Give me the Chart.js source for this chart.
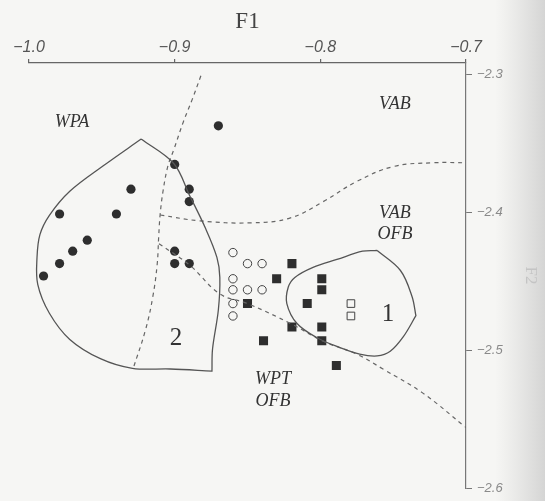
<!DOCTYPE html>
<html>
<head>
<meta charset="utf-8">
<script src="https://cdn.jsdelivr.net/npm/chart.js@4/dist/chart.umd.min.js"></script>
<style>
    html, body { margin: 0; padding: 0; background: #f6f6f4; }
    #wrap { width: 545px; height: 501px; }
</style>
</head>
<body>
<div id="wrap"><canvas id="chart" width="545" height="501"></canvas></div>
<script>
// axis ticks
const xTicks = [-1.0, -0.9, -0.8, -0.7];
const yTicks = [-2.6, -2.5, -2.4, -2.3];

// filled circles
const dotX = [-0.870, -0.900, -0.890, -0.890, -0.930, -0.979, -0.940, -0.960, -0.970, -0.979, -0.990, -0.900, -0.900, -0.890];
const dotY = [-2.337, -2.365, -2.383, -2.392, -2.383, -2.401, -2.401, -2.420, -2.428, -2.437, -2.446, -2.428, -2.437, -2.437];

// open circles
const ringX = [-0.860, -0.850, -0.840, -0.860, -0.860, -0.850, -0.840, -0.860, -0.860];
const ringY = [-2.429, -2.437, -2.437, -2.448, -2.456, -2.456, -2.456, -2.466, -2.475];

// filled squares
const boxX = [-0.8195, -0.830, -0.799, -0.799, -0.850, -0.809, -0.8195, -0.799, -0.839, -0.799, -0.789];
const boxY = [-2.437, -2.448, -2.448, -2.456, -2.466, -2.466, -2.483, -2.483, -2.493, -2.493, -2.511];

// open squares
const hollowX = [-0.779, -0.779];
const hollowY = [-2.466, -2.475];

// group 2 outline (WPA)
const area2X = [-0.923, -0.923, -0.9005, -0.890, -0.879, -0.871, -0.869, -0.870, -0.874, -0.8744, -0.8744, -0.903, -0.929, -0.951, -0.972, -0.986, -0.994, -0.9945, -0.9925, -0.986, -0.972, -0.949, -0.923];
const area2Y = [-2.3466, -2.3466, -2.3645, -2.387, -2.411, -2.4325, -2.447, -2.4705, -2.499, -2.515, -2.515, -2.5135, -2.513, -2.506, -2.492, -2.473, -2.452, -2.4325, -2.416, -2.402, -2.3845, -2.366, -2.3466];

// group 1 outline
const area1X = [-0.761, -0.745, -0.737, -0.7344, -0.7344, -0.743, -0.752, -0.761, -0.773, -0.7865, -0.802, -0.816, -0.823, -0.822, -0.8175, -0.805, -0.7886, -0.771, -0.761];
const area1Y = [-2.4275, -2.442, -2.461, -2.4748, -2.4748, -2.490, -2.5006, -2.504, -2.5027, -2.498, -2.491, -2.4805, -2.466, -2.454, -2.447, -2.4397, -2.434, -2.428, -2.4275];

// dashed boundaries
const edgeAX = [-0.882, -0.888, -0.894, -0.9005, -0.9046, -0.908, -0.910, -0.911, -0.912, -0.915, -0.920, -0.9286];
const edgeAY = [-2.3007, -2.318, -2.334, -2.354, -2.366, -2.3845, -2.4017, -2.418, -2.4375, -2.461, -2.485, -2.5135];
const edgeBX = [-0.910, -0.8826, -0.848, -0.821, -0.798, -0.775, -0.750, -0.7227, -0.7];
const edgeBY = [-2.4017, -2.406, -2.4074, -2.404, -2.392, -2.3774, -2.3666, -2.3638, -2.3638];
const edgeCX = [-0.9108, -0.8895, -0.869, -0.850, -0.8195, -0.798, -0.775, -0.757, -0.7296, -0.7];
const edgeCY = [-2.4225, -2.4383, -2.459, -2.466, -2.481, -2.4934, -2.5027, -2.5135, -2.531, -2.556];

// region names
const noteText = ['WPA', 'VAB', 'VAB', 'OFB', 'WPT', 'OFB', '2', '1'];
const noteX = [-0.9705, -0.7488, -0.7488, -0.7488, -0.8325, -0.8325, -0.8991, -0.7536];
const noteY = [-2.3344, -2.3215, -2.4003, -2.4160, -2.5206, -2.5371, -2.4913, -2.4741];

const ink = '#2e2e2e';
const lineInk = '#555';

function pts(xs, ys) {
    return xs.map((x, i) => ({ x: x, y: ys[i] }));
}

function fmt(v) {
    return (v < 0 ? '\u2212' : '') + Math.abs(v).toFixed(1);
}

function outline(xs, ys) {
    return {
        type: 'line',
        data: pts(xs, ys),
        borderColor: lineInk,
        borderWidth: 1.3,
        pointRadius: 0,
        tension: 0.35,
        fill: false
    };
}

function dashed(xs, ys) {
    return {
        type: 'line',
        data: pts(xs, ys),
        borderColor: '#666',
        borderWidth: 1.2,
        borderDash: [4, 4],
        pointRadius: 0,
        tension: 0.4,
        fill: false
    };
}

// paper background
const paperPlugin = {
    id: 'paper',
    beforeDraw(chart) {
        const ctx = chart.ctx;
        ctx.save();
        ctx.fillStyle = '#f6f6f4';
        ctx.fillRect(0, 0, chart.width, chart.height);
        const g = ctx.createLinearGradient(495, 0, chart.width, 0);
        g.addColorStop(0, 'rgba(200,200,200,0)');
        g.addColorStop(1, 'rgba(190,190,190,0.6)');
        ctx.fillStyle = g;
        ctx.fillRect(495, 0, chart.width - 495, chart.height);
        ctx.restore();
    }
};

// region names in the plot
const notePlugin = {
    id: 'notes',
    afterDatasetsDraw(chart) {
        const ctx = chart.ctx;
        const xs = chart.scales.x;
        const ys = chart.scales.y;
        ctx.save();
        ctx.fillStyle = '#333';
        ctx.textAlign = 'center';
        ctx.textBaseline = 'middle';
        noteText.forEach((t, i) => {
            const digit = /^[0-9]$/.test(t);
            ctx.font = digit ? '25px "Liberation Serif"' : 'italic 18px "Liberation Serif"';
            ctx.fillText(t, xs.getPixelForValue(noteX[i]), ys.getPixelForValue(noteY[i]));
        });
        ctx.restore();
    }
};

new Chart(document.getElementById('chart'), {
    type: 'scatter',
    data: {
        datasets: [
            outline(area2X, area2Y),
            outline(area1X, area1Y),
            dashed(edgeAX, edgeAY),
            dashed(edgeBX, edgeBY),
            dashed(edgeCX, edgeCY),
            {
                data: pts(dotX, dotY),
                pointStyle: 'circle',
                pointRadius: 4.6,
                backgroundColor: ink,
                borderColor: ink,
                borderWidth: 0
            },
            {
                data: pts(ringX, ringY),
                pointStyle: 'circle',
                pointRadius: 4.2,
                backgroundColor: 'rgba(0,0,0,0)',
                borderColor: '#444',
                borderWidth: 1
            },
            {
                data: pts(boxX, boxY),
                pointStyle: 'rect',
                pointRadius: 6.4,
                backgroundColor: ink,
                borderColor: ink,
                borderWidth: 0
            },
            {
                data: pts(hollowX, hollowY),
                pointStyle: 'rect',
                pointRadius: 5.4,
                backgroundColor: 'rgba(0,0,0,0)',
                borderColor: '#444',
                borderWidth: 1
            }
        ]
    },
    options: {
        responsive: false,
        animation: false,
        layout: { padding: { left: 29, right: 0, top: 0, bottom: 8 } },
        plugins: {
            legend: { display: false },
            tooltip: { enabled: false }
        },
        scales: {
            x: {
                type: 'linear',
                position: 'top',
                min: -1.0,
                max: -0.7,
                afterBuildTicks: (scale) => { scale.ticks = xTicks.map(v => ({ value: v })); },
                afterFit: (scale) => { scale.height = 63; },
                ticks: {
                    callback: (v) => fmt(v),
                    color: '#555',
                    padding: 2,
                    maxRotation: 0,
                    font: { family: '"Liberation Sans", Arial', size: 16, style: 'italic' }
                },
                grid: { drawOnChartArea: false, tickLength: 4, color: '#666', lineWidth: 1.2 },
                border: { display: true, color: '#666', width: 1.2 },
                title: {
                    display: true,
                    text: 'F1',
                    color: '#444',
                    padding: { top: 8, bottom: 0 },
                    font: { family: '"Liberation Serif", serif', size: 23 }
                }
            },
            y: {
                type: 'linear',
                position: 'right',
                min: -2.6,
                max: -2.2914,
                afterBuildTicks: (scale) => { scale.ticks = yTicks.map(v => ({ value: v })); },
                afterFit: (scale) => { scale.width = 79; },
                ticks: {
                    callback: (v) => fmt(v),
                    color: '#8a8a8a',
                    padding: 5,
                    font: { family: '"Liberation Sans", Arial', size: 13, style: 'italic' }
                },
                grid: { drawOnChartArea: false, tickLength: 6, color: '#777', lineWidth: 1 },
                border: { display: true, color: '#777', width: 1.2 },
                title: {
                    display: true,
                    text: 'F2',
                    color: '#c4c4c4',
                    padding: 4,
                    font: { family: '"Liberation Serif", serif', size: 17 }
                }
            }
        }
    },
    plugins: [paperPlugin, notePlugin]
});
</script>
</body>
</html>
